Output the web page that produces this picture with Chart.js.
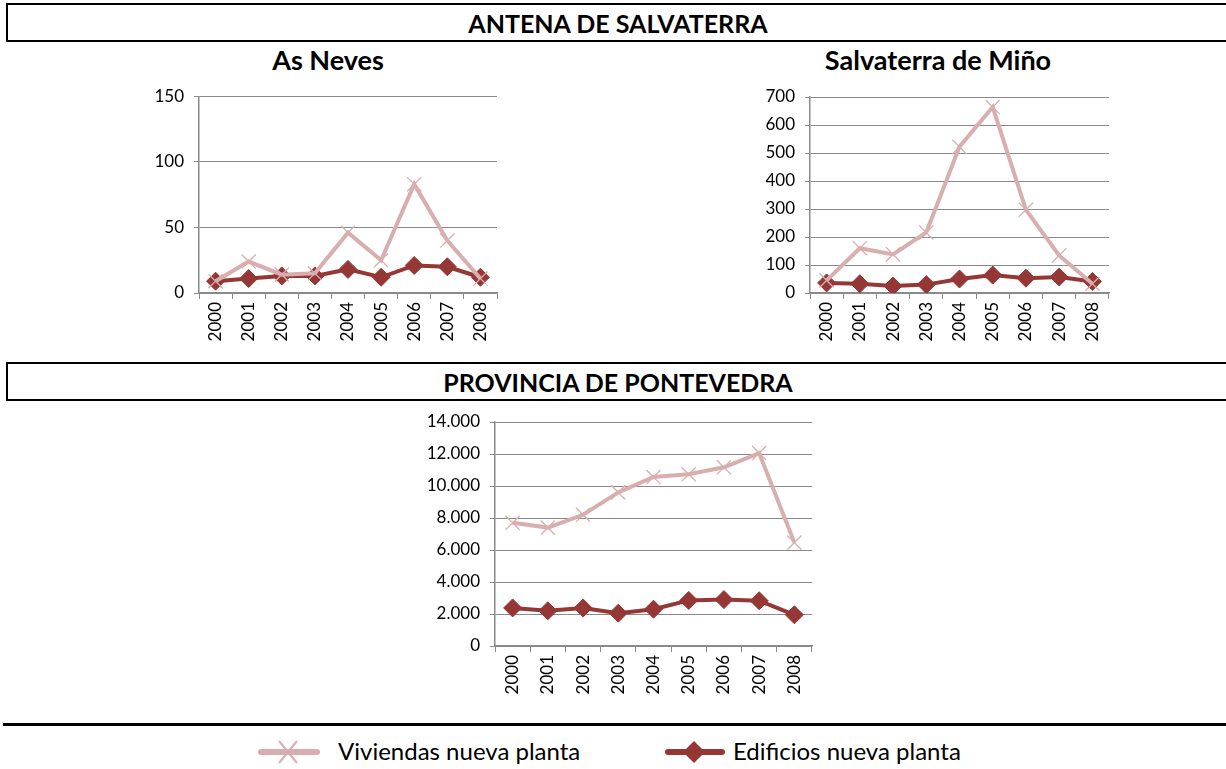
<!DOCTYPE html>
<html>
<head>
<meta charset="utf-8">
<script src="https://cdn.jsdelivr.net/npm/chart.js@4"></script>
<style>
  html, body { margin:0; padding:0; background:#fff; }
  body { width:1226px; height:769px; position:relative; overflow:hidden; font-family: Lato, "Open Sans", sans-serif; }
  .box { position:absolute; left:6px; width:1240px; border:2px solid #000; border-right:none; box-sizing:border-box; }
  .hdr { position:absolute; left:0; width:1236px; text-align:center; font-weight:bold; color:#000; }
  .sub { position:absolute; font-weight:bold; font-size:27px; color:#000; text-align:center; }
  canvas.c { position:absolute; }
  .rule { position:absolute; left:3px; top:723px; width:1230px; height:3px; background:#000; }
  .leg { position:absolute; top:736px; font-size:24px; color:#000; }
</style>
</head>
<body>
<div class="box" style="top:3px;height:39px;"></div>
<div class="hdr" style="top:8px;font-size:25px;">ANTENA DE SALVATERRA</div>
<div class="sub" style="left:178px;width:300px;top:43px;">As Neves</div>
<div class="sub" style="left:788px;width:300px;top:43px;">Salvaterra de Miño</div>

<div class="box" style="top:362px;height:39px;"></div>
<div class="hdr" style="top:367px;font-size:25px;">PROVINCIA DE PONTEVEDRA</div>

<canvas class="c" id="c1" width="370" height="275" style="left:140px;top:85px;width:370px;height:275px;"></canvas>
<canvas class="c" id="c2" width="380" height="275" style="left:750px;top:85px;width:380px;height:275px;"></canvas>
<canvas class="c" id="c3" width="420" height="300" style="left:410px;top:405px;width:420px;height:300px;"></canvas>

<div class="rule"></div>

<svg style="position:absolute;left:255px;top:737px" width="70" height="30">
  <line x1="6" y1="15" x2="62" y2="15" stroke="#D8AEAE" stroke-width="6" stroke-linecap="round"/>
  <line x1="24" y1="4" x2="42" y2="26" stroke="#D8AEAE" stroke-width="2"/>
  <line x1="42" y1="4" x2="24" y2="26" stroke="#D8AEAE" stroke-width="2"/>
</svg>
<div class="leg" style="left:338px;">Viviendas nueva planta</div>
<svg style="position:absolute;left:662px;top:737px" width="70" height="30">
  <line x1="6" y1="15" x2="60" y2="15" stroke="#953735" stroke-width="6" stroke-linecap="round"/>
  <polygon points="32,4 43,15 32,26 21,15" fill="#953735"/>
</svg>
<div class="leg" style="left:733px;">Edificios nueva planta</div>

<script>
// ---- Data ----
const years = ["2000","2001","2002","2003","2004","2005","2006","2007","2008"];

const asNevesViviendas  = [9, 24, 14, 15, 46, 25, 83, 40, 11];
const asNevesEdificios  = [9, 11, 13, 13, 18, 12, 21, 20, 12];

const salvaterraViviendas = [45, 160, 138, 216, 522, 664, 297, 134, 33];
const salvaterraEdificios = [36, 33, 25, 30, 50, 64, 53, 57, 41];

const pontevedraViviendas = [7700, 7400, 8200, 9600, 10560, 10730, 11170, 12060, 6460];
const pontevedraEdificios = [2380, 2200, 2380, 2050, 2300, 2850, 2900, 2830, 1950];

const seriesNames = ["Viviendas nueva planta", "Edificios nueva planta"];

const asNevesTicks = { max: 150, step: 50 };
const salvaterraTicks = { max: 700, step: 100 };
const pontevedraTicks = { max: 14000, step: 2000 };

// ---- Styling ----
const PINK = "#D8AEAE";
const DARK = "#953735";
const GRID = "#8A8A8A";
const FONT = "Lato, 'Open Sans', sans-serif";

function fmt(v) {
  return String(v).replace(/\B(?=(\d{3})+(?!\d))/g, ".");
}

function makeChart(id, viv, edi, ticks, area) {
  const cv = document.getElementById(id);
  const W = cv.width, H = cv.height;
  return new Chart(cv, {
    type: "line",
    data: {
      labels: years,
      datasets: [
        {
          label: seriesNames[0], data: viv,
          borderColor: PINK, backgroundColor: PINK, borderWidth: 4,
          pointStyle: "crossRot", pointRadius: 10, pointBorderWidth: 1.3,
          pointBorderColor: PINK, tension: 0
        },
        {
          label: seriesNames[1], data: edi,
          borderColor: DARK, backgroundColor: DARK, borderWidth: 4,
          pointStyle: "rectRot", pointRadius: 9, pointBorderWidth: 1,
          pointBackgroundColor: DARK, pointBorderColor: DARK, tension: 0
        }
      ]
    },
    options: {
      responsive: false,
      animation: false,
      devicePixelRatio: 1,
      layout: { padding: { top: area.top, right: W - area.right, left: 0, bottom: 0 } },
      plugins: { legend: { display: false }, tooltip: { enabled: false }, title: { display: false } },
      scales: {
        x: {
          offset: true,
          grid: { display: true, drawOnChartArea: false, drawTicks: true, tickLength: 6, offset: true, color: GRID, lineWidth: 1 },
          border: { display: true, color: GRID, width: 1.5 },
          ticks: { minRotation: 90, maxRotation: 90, autoSkip: false, padding: 3, color: "#000", font: { family: FONT, size: 17 } },
          afterFit: (s) => { s.height = H - area.bottom; s.paddingLeft = 0; s.paddingRight = 0; }
        },
        y: {
          min: 0, max: ticks.max,
          grid: { color: GRID, lineWidth: 1, drawTicks: true, tickLength: 5 },
          border: { display: true, color: GRID, width: 1.5 },
          ticks: { stepSize: ticks.step, padding: 10, color: "#000", font: { family: FONT, size: 17 }, callback: (v) => fmt(v) },
          afterFit: (s) => { s.width = area.left; s.paddingTop = 0; s.paddingBottom = 0; }
        }
      }
    }
  });
}

makeChart("c1", asNevesViviendas, asNevesEdificios, asNevesTicks, { left: 59, right: 357, top: 11, bottom: 208 });
makeChart("c2", salvaterraViviendas, salvaterraEdificios, salvaterraTicks, { left: 60, right: 359, top: 12, bottom: 208 });
makeChart("c3", pontevedraViviendas, pontevedraEdificios, pontevedraTicks, { left: 85, right: 402, top: 17, bottom: 241 });
</script>
</body>
</html>
